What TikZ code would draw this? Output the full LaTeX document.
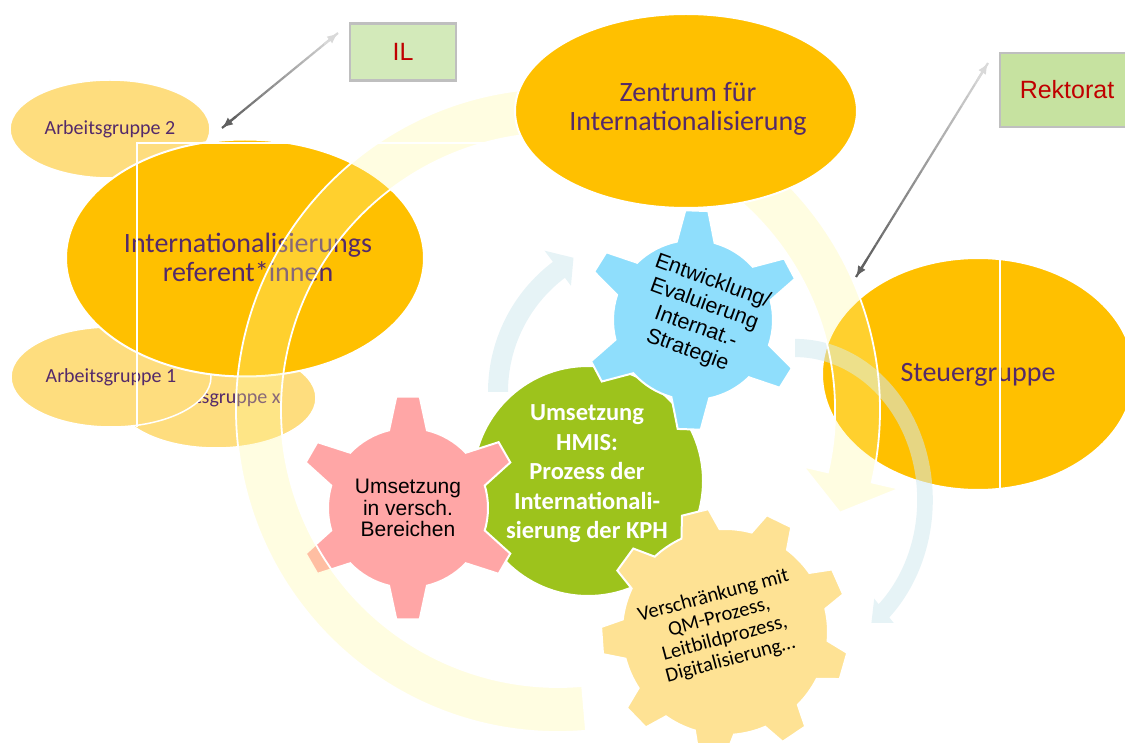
\documentclass[tikz,border=0pt]{standalone}
\usepackage{fontspec}
\setmainfont{Carlito}
\newfontfamily\arialfont{Liberation Sans}
\usepackage{tikz}
\usetikzlibrary{shapes.geometric}
\usetikzlibrary{calc}
\usetikzlibrary{arrows.meta}

\definecolor{kphorange}{RGB}{255,192,0}
\definecolor{aglight}{RGB}{254,221,126}
\definecolor{lila}{RGB}{84,42,106}
\definecolor{gearred}{RGB}{255,166,166}
\definecolor{geargreen}{RGB}{157,195,28}
\definecolor{gearblue}{RGB}{143,222,252}
\definecolor{gearyellow}{RGB}{254,226,148}
\definecolor{ringyellow}{RGB}{255,248,155}
\definecolor{arcblue}{RGB}{210,233,239}
\definecolor{boxgreen}{RGB}{211,234,186}
\definecolor{boxgreendark}{RGB}{198,226,160}
\definecolor{boxred}{RGB}{192,0,0}

% gear: center, teeth, body radius, tip radius, rotation, base half angle, tip half angle, colour
\newcommand{\gearwheel}[8]{%
  \filldraw[fill=#8, draw=white, line width=2pt, shift={#1}] ({#5-#6}:#3)
    \foreach \k [evaluate=\k as \a using {#5+(\k-1)*360/#2}] in {1,...,#2} {
      -- ({\a-#6}:#3) -- ({\a-#7}:#4) -- ({\a+#7}:#4) -- ({\a+#6}:#3)
      arc[start angle={\a+#6}, end angle={\a+360/#2-#6}, radius=#3]
    } -- cycle;
}

\tikzset{
  bubble/.style={ellipse, draw=white, line width=2pt, fill=kphorange, inner sep=0pt},
  bubbletext/.style={align=center, inner sep=0pt, text=lila, font=\fontsize{28}{29}\selectfont},
  agbubble/.style={ellipse, draw=white, line width=1.5pt, fill=aglight, inner sep=0pt,
    text=lila, font=\fontsize{20}{22}\selectfont},
  geartext/.style={align=center, inner sep=0pt},
  sidebox/.style={rectangle, fill=boxgreen, draw=black!25, line width=2.5pt, inner sep=0pt,
    text=boxred, font=\arialfont\fontsize{25}{28}\selectfont},
}

\begin{document}
\begin{tikzpicture}[x=1pt, y=-1pt]
\useasboundingbox (0,0) rectangle (1125,743);
\clip (0,0) rectangle (1125,743);

% working groups
\node[agbubble, minimum width=200, minimum height=98] (ag2) at (110,129) {Arbeitsgruppe 2};
\node[agbubble, minimum width=200, minimum height=100] (agx) at (216,398) {Arbeitsgruppe x};
\node[agbubble, minimum width=200, minimum height=100] (ag1) at (111,377) {Arbeitsgruppe 1};

\node[bubble, minimum width=358, minimum height=237] (iref) at (245,258) {};
\node[bubbletext] (iref-text) at (248,257) {Internationalisierungs\\referent*innen};
\node[bubble, minimum width=312, minimum height=232] (steuer) at (978,374) {};
\node[bubbletext] (steuer-text) at (978,375) {Steuergruppe};

% gears
\filldraw[fill=geargreen, draw=white, line width=2pt] (588,481) circle[radius=115];
\node[geartext, text=white, font=\bfseries\fontsize{24.5}{29.5}\selectfont] (hmis) at (587,474)
  {Umsetzung\\HMIS:\\Prozess der\\Internationali-\\sierung der KPH};

\gearwheel{(408,508)}{6}{80}{112}{90}{13.7}{6}{gearred}
\node[geartext, font=\arialfont\fontsize{21}{21.7}\selectfont] (bereiche) at (408,508)
  {Umsetzung\\in versch.\\Bereichen};

\gearwheel{(693,320)}{6}{80}{110}{32}{13.7}{6}{gearblue}
\node[geartext, rotate=-20, font=\arialfont\fontsize{21.5}{24.5}\selectfont] (strategie) at (700,316)
  {Entwicklung/\\Evaluierung\\Internat.-\\Strategie};

\gearwheel{(725,632)}{9}{103}{124}{16}{11}{6.3}{gearyellow}
\node[geartext, rotate=15, font=\fontsize{20.5}{22}\selectfont] (verschr) at (722,628)
  {Verschränkung mit\\QM-Prozess,\\Leitbildprozess,\\Digitalisierung…};

% small cycle arrows
\fill[arcblue, fill opacity=0.55, shift={(651,392)}] (180:163)
  arc[start angle=180, end angle=233, radius=163] -- (233:177) -- (240:155) -- (233:133)
  -- (233:143) arc[start angle=233, end angle=180, radius=143] -- cycle;
\fill[arcblue, fill opacity=0.55, shift={(795,500)}] (270:137.8 and 161.1)
  arc[start angle=270, end angle=406.8, x radius=137.8, y radius=161.1]
  -- (406.8:144.3 and 168.7) -- (414:130 and 152) -- (406.8:115.7 and 135.3)
  -- (406.8:122.2 and 142.9) arc[start angle=406.8, end angle=270, x radius=122.2, y radius=142.9] -- cycle;

% big cycle arrow
\filldraw[fill=ringyellow, fill opacity=0.3, draw=white, line width=1.8pt, shift={(558,410)}] (85:322)
  arc[start angle=85, end angle=373, radius=322] -- (373:350) -- (380:300) -- (373:252)
  -- (373:277) arc[start angle=373, end angle=85, radius=277] -- cycle;

\draw[white, line width=2pt] (137,427) -- (137,143) -- (520,143);
\draw[white, line width=2pt] (1000,250) -- (1000,500);

\node[bubble, minimum width=342, minimum height=194] (zentrum) at (686,111) {};
\node[bubbletext] (zentrum-text) at (688,109) {Zentrum für\\Internationalisierung};

% boxes and links
\node[sidebox, minimum width=106, minimum height=57] (il) at (403,52) {IL};
\node[sidebox, minimum width=134, minimum height=74, fill=boxgreendark] (rektorat) at (1067,90) {Rektorat};

\coordinate (il-a) at (338,33);
\coordinate (il-b) at (222,128);
\coordinate (rek-a) at (988,63);
\coordinate (rek-b) at (856,277);
\foreach \i [evaluate=\i as \c using 15+2.6*\i] in {0,...,19} {
  \draw[line width=2.2pt, black!\c] ($(il-a)!\i/20!(il-b)$) -- ($(il-a)!\i/20+0.05!(il-b)$);
  \draw[line width=2.2pt, black!\c] ($(rek-a)!\i/20!(rek-b)$) -- ($(rek-a)!\i/20+0.05!(rek-b)$);
}
\draw[-{Latex[length=11pt,width=9pt]}, line width=2.2pt, black!15] ($(il-a)!0.12!(il-b)$) -- (il-a);
\draw[-{Latex[length=11pt,width=9pt]}, line width=2.2pt, black!62] ($(il-b)!0.12!(il-a)$) -- (il-b);
\draw[-{Latex[length=11pt,width=9pt]}, line width=2.2pt, black!15] ($(rek-a)!0.08!(rek-b)$) -- (rek-a);
\draw[-{Latex[length=11pt,width=9pt]}, line width=2.2pt, black!62] ($(rek-b)!0.08!(rek-a)$) -- (rek-b);
\end{tikzpicture}
\end{document}
